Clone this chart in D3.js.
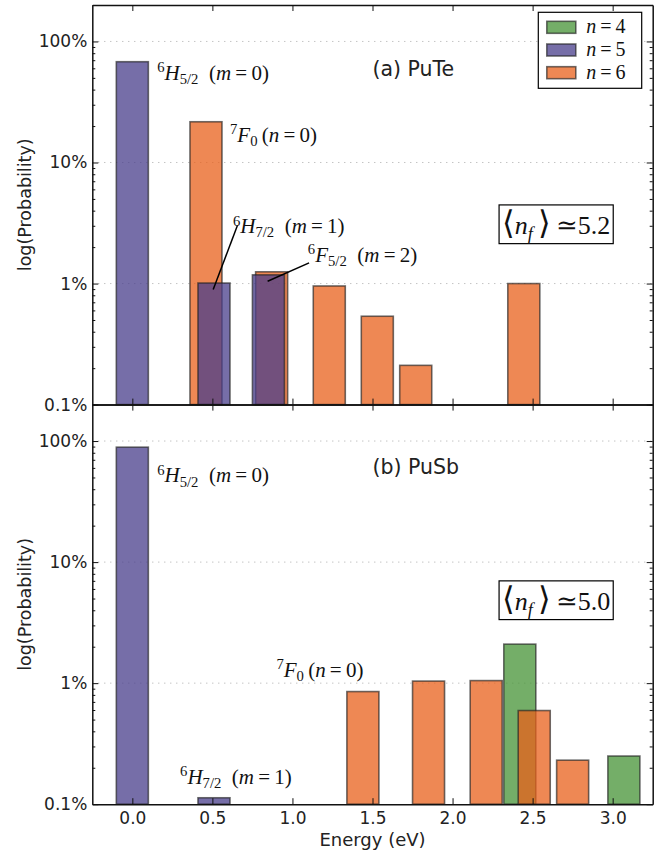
<!DOCTYPE html>
<html>
<head>
<meta charset="utf-8">
<script src="https://cdn.jsdelivr.net/npm/d3@7"></script>
<style>
  body { margin: 0; background: #fff; }
  svg text { white-space: pre; }
</style>
</head>
<body>
<div id="viz"></div>
<script>
// Values (probability in %)
const xTicks = [0, 0.5, 1, 1.5, 2, 2.5, 3];
const yTicks = [0.1, 1, 10, 100];
const yTickLabels = ['0.1%', '1%', '10%', '100%'];

const seriesNames = ['4', '5', '6'];
const seriesColors = ['rgb(70,147,54)', 'darkslateblue', 'rgb(232,96,27)'];

// (a) PuTe
const puteN4Energy = [];
const puteN4Prob = [];
const puteN5Energy = [0.0, 0.51, 0.85];
const puteN5Prob = [68, 1.01, 1.18];
const puteN6Energy = [0.46, 0.87, 1.23, 1.53, 1.77, 2.445];
const puteN6Prob = [21.7, 1.25, 0.955, 0.537, 0.211, 1.0];

// (b) PuSb
const pusbN4Energy = [2.42, 3.07];
const pusbN4Prob = [2.10, 0.25];
const pusbN5Energy = [0.0, 0.51];
const pusbN5Prob = [89, 0.113];
const pusbN6Energy = [1.44, 1.85, 2.21, 2.51, 2.75];
const pusbN6Prob = [0.852, 1.04, 1.05, 0.594, 0.231];

const barWidth = 0.2;

const width = 668, height = 855;
const mLeft = 92.3, mRight = 652.7, mTop = 5, panelH = 399.6;

const svg = d3.select('#viz').append('svg')
    .attr('width', width)
    .attr('height', height);

const x = d3.scaleLinear().domain([-0.25, 3.25]).range([mLeft, mRight]);

// math-ish label built from tspans: [text, kind]
function mathText(g, px, py, parts, size, anchor) {
    const t = g.append('text')
        .attr('x', px).attr('y', py)
        .attr('text-anchor', anchor || 'start')
        .style('font-family', "'Liberation Serif', 'DejaVu Serif', serif")
        .style('font-size', size + 'px')
        .attr('fill', '#111');
    let cur = 0;
    parts.forEach(([s, kind]) => {
        let shift = 0, fs = size, it = false;
        if (kind === 'sup') { shift = -0.36 * size; fs = 0.7 * size; }
        if (kind === 'sub') { shift = 0.2 * size; fs = 0.7 * size; }
        if (kind === 'subi') { shift = 0.22 * size; fs = 0.7 * size; it = true; }
        if (kind === 'big') { fs = 1.25 * size; }
        if (kind === 'i') it = true;
        t.append('tspan')
            .attr('dy', shift - cur)
            .style('font-size', fs + 'px')
            .style('font-style', it ? 'italic' : 'normal')
            .text(s);
        cur = shift;
    });
    return t;
}

const H52 = [['6', 'sup'], ['H', 'i'], ['5/2', 'sub'], ['\u2002(', 'r'], ['m', 'i'], ['\u2009=\u2009', 'r'], ['0)', 'r']];
const H72 = [['6', 'sup'], ['H', 'i'], ['7/2', 'sub'], ['\u2002(', 'r'], ['m', 'i'], ['\u2009=\u2009', 'r'], ['1)', 'r']];
const F52 = [['6', 'sup'], ['F', 'i'], ['5/2', 'sub'], ['\u2002(', 'r'], ['m', 'i'], ['\u2009=\u2009', 'r'], ['2)', 'r']];
const F0 = [['7', 'sup'], ['F', 'i'], ['0', 'sub'], ['\u2009(', 'r'], ['n', 'i'], ['\u2009=\u2009', 'r'], ['0)', 'r']];

const panels = [
    {
        y0: mTop,
        title: '(a) PuTe', titleAt: [1.50, 51.7],
        series: [[puteN4Energy, puteN4Prob], [puteN6Energy, puteN6Prob], [puteN5Energy, puteN5Prob]],
        seriesIdx: [0, 2, 1],
        labels: [
            { parts: H52, at: [0.155, 48] },
            { parts: F0, at: [0.61, 14.8] },
            { parts: H72, at: [0.628, 2.61] },
            { parts: F52, at: [1.096, 1.52] }
        ],
        leaders: [
            [[0.657, 3.03], [0.505, 0.892]],
            [[1.104, 1.48], [0.845, 1.045]]
        ],
        nf: '5.2', nfAt: [2.647, 2.57],
        legend: true, xLabels: false
    },
    {
        y0: mTop + panelH,
        title: '(b) PuSb', titleAt: [1.50, 53.7],
        series: [[pusbN4Energy, pusbN4Prob], [pusbN6Energy, pusbN6Prob], [pusbN5Energy, pusbN5Prob]],
        seriesIdx: [0, 2, 1],
        labels: [
            { parts: H52, at: [0.155, 45.5] },
            { parts: F0, at: [0.90, 1.134] },
            { parts: H72, at: [0.298, 0.147] }
        ],
        leaders: [],
        nf: '5.0', nfAt: [2.647, 4.03],
        legend: false, xLabels: true
    }
];

panels.forEach(p => {
    const y = d3.scaleLog().domain([0.1, 200]).range([p.y0 + panelH, p.y0]);
    const g = svg.append('g');

    // dotted grid at major decades
    g.selectAll('.grid')
        .data(yTicks.filter(v => v > 0.1))
        .enter().append('line')
        .attr('x1', mLeft).attr('x2', mRight)
        .attr('y1', d => y(d)).attr('y2', d => y(d))
        .attr('stroke', '#aaa')
        .attr('stroke-width', 1)
        .attr('stroke-dasharray', '1,5');

    // bars
    p.series.forEach((s, k) => {
        const color = seriesColors[p.seriesIdx[k]];
        g.selectAll(null)
            .data(s[0].map((e, i) => [e, s[1][i]]))
            .enter().append('rect')
            .attr('x', d => x(d[0] - barWidth / 2))
            .attr('width', d => x(d[0] + barWidth / 2) - x(d[0] - barWidth / 2))
            .attr('y', d => y(d[1]))
            .attr('height', d => y(0.1) - y(d[1]))
            .attr('fill', color)
            .attr('fill-opacity', 0.75)
            .attr('stroke', '#222')
            .attr('stroke-opacity', 0.65)
            .attr('stroke-width', 1.6);
    });

    // y axes, inward ticks
    const minors = [];
    [0.1, 1, 10, 100].forEach(d => { for (let m = 2; m <= 9; m++) if (d * m <= 200) minors.push(d * m); });

    g.append('g').attr('transform', `translate(${mLeft},0)`)
        .call(d3.axisLeft(y).tickValues(yTicks).tickFormat((d, i) => yTickLabels[i])
            .tickSizeInner(-6).tickSizeOuter(0).tickPadding(5));
    g.append('g').attr('transform', `translate(${mLeft},0)`)
        .call(d3.axisLeft(y).tickValues(minors).tickFormat('').tickSizeInner(-3).tickSizeOuter(0))
        .select('.domain').remove();
    g.append('g').attr('transform', `translate(${mRight},0)`)
        .call(d3.axisRight(y).tickValues(yTicks).tickFormat('').tickSizeInner(-6).tickSizeOuter(0));
    g.append('g').attr('transform', `translate(${mRight},0)`)
        .call(d3.axisRight(y).tickValues(minors).tickFormat('').tickSizeInner(-3).tickSizeOuter(0))
        .select('.domain').remove();

    // x axes: top and bottom, inward
    g.append('g').attr('transform', `translate(0,${p.y0})`)
        .call(d3.axisTop(x).tickValues(xTicks).tickFormat('').tickSizeInner(-6).tickSizeOuter(0));
    g.append('g').attr('transform', `translate(0,${p.y0 + panelH})`)
        .call(d3.axisBottom(x).tickValues(xTicks)
            .tickFormat(p.xLabels ? d3.format('.1f') : '')
            .tickSizeInner(-6).tickSizeOuter(0).tickPadding(8));

    g.selectAll('.tick text')
        .style('font-family', "'DejaVu Sans', sans-serif")
        .style('font-size', '17px')
        .attr('fill', '#222');
    g.selectAll('.domain').attr('stroke', '#111').attr('stroke-width', 1.5);
    g.selectAll('.tick line').attr('stroke', '#111').attr('stroke-width', 1);

    // y label
    g.append('text')
        .attr('transform', `translate(31,${p.y0 + panelH / 2}) rotate(-90)`)
        .attr('text-anchor', 'middle')
        .style('font-family', "'DejaVu Sans', sans-serif")
        .style('font-size', '17.5px')
        .attr('fill', '#222')
        .text('log(Probability)');

    // panel title
    g.append('text')
        .attr('x', x(p.titleAt[0])).attr('y', y(p.titleAt[1]))
        .style('font-family', "'DejaVu Sans', sans-serif")
        .style('font-size', '20.5px')
        .attr('fill', '#222')
        .text(p.title);

    // state labels and leader lines
    p.labels.forEach(l => mathText(g, x(l.at[0]), y(l.at[1]), l.parts, 21));
    p.leaders.forEach(l => {
        g.append('line')
            .attr('x1', x(l[0][0])).attr('y1', y(l[0][1]))
            .attr('x2', x(l[1][0])).attr('y2', y(l[1][1]))
            .attr('stroke', '#000').attr('stroke-width', 1.5);
    });

    // <n_f> box
    const nf = mathText(g, x(p.nfAt[0]), y(p.nfAt[1]),
        [['\u27E8', 'big'], ['n', 'i'], ['f', 'subi'], ['\u2009', 'r'], ['\u27E9', 'big'], ['\u2009\u2243', 'r'], [p.nf, 'r']], 26, 'middle');
    const bb = nf.node().getBBox();
    g.insert('rect', () => nf.node())
        .attr('x', bb.x - 3).attr('y', bb.y)
        .attr('width', bb.width + 6).attr('height', bb.height)
        .attr('fill', '#fff').attr('stroke', '#000').attr('stroke-width', 1.2);

    // legend
    if (p.legend) {
        const lg = svg.append('g').attr('transform', 'translate(538.3,12.3)');
        lg.append('rect').attr('width', 103.4).attr('height', 76)
            .attr('fill', '#fff').attr('stroke', '#000').attr('stroke-width', 1.2);
        seriesNames.forEach((n, i) => {
            lg.append('rect')
                .attr('x', 8.5).attr('y', 9 + i * 22.7)
                .attr('width', 29).attr('height', 12)
                .attr('fill', seriesColors[i]).attr('fill-opacity', 0.75)
                .attr('stroke', '#222').attr('stroke-opacity', 0.65).attr('stroke-width', 1.6);
            mathText(lg, 48, 21 + i * 22.7, [['n', 'i'], ['\u2009=\u2009', 'r'], [n, 'r']], 20);
        });
    }
});

// x label
svg.append('text')
    .attr('x', (mLeft + mRight) / 2).attr('y', 846)
    .attr('text-anchor', 'middle')
    .style('font-family', "'DejaVu Sans', sans-serif")
    .style('font-size', '18px')
    .attr('fill', '#222')
    .text('Energy (eV)');
</script>
</body>
</html>
